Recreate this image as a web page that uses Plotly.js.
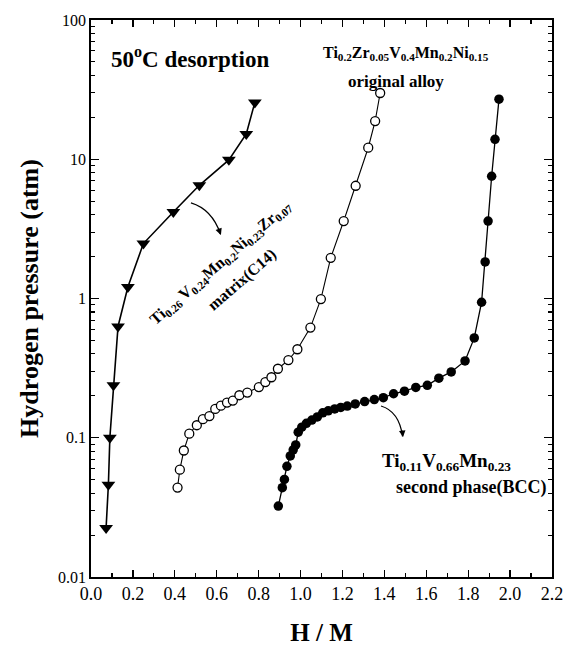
<!DOCTYPE html>
<html><head><meta charset="utf-8">
<script src="https://cdn.plot.ly/plotly-3.0.1.min.js"></script>
<style>html,body{margin:0;padding:0;background:#fff}</style>
</head><body>
<div id="chart" style="width:567px;height:646px"></div>
<script>
// C14 matrix (triangles)
const c14X = [0.072,0.083,0.090,0.107,0.129,0.176,0.250,0.393,0.517,0.658,0.741,0.782];
const c14Y = [0.0225,0.046,0.100,0.238,0.63,1.21,2.48,4.18,6.5,9.9,15.2,25.6];
// original alloy (open circles)
const origX = [0.413,0.424,0.443,0.469,0.505,0.534,0.565,0.593,0.620,0.649,0.677,0.708,0.746,0.801,0.832,0.861,0.892,0.942,0.985,1.047,1.097,1.144,1.206,1.263,1.323,1.356,1.380];
const origY = [0.0439,0.059,0.081,0.107,0.123,0.136,0.143,0.161,0.170,0.179,0.185,0.202,0.211,0.231,0.251,0.272,0.313,0.361,0.432,0.618,0.99,1.96,3.6,6.45,12.1,18.8,29.9];
// second phase BCC (filled circles)
const bccX = [0.894,0.913,0.923,0.935,0.951,0.965,0.977,0.989,1.006,1.028,1.054,1.080,1.106,1.132,1.163,1.192,1.223,1.261,1.306,1.352,1.395,1.444,1.496,1.550,1.605,1.660,1.719,1.785,1.829,1.864,1.881,1.895,1.912,1.928,1.947];
const bccY = [0.0323,0.0438,0.0502,0.0624,0.074,0.0819,0.0888,0.1096,0.119,0.127,0.134,0.141,0.151,0.156,0.161,0.165,0.169,0.175,0.182,0.188,0.194,0.207,0.216,0.230,0.238,0.268,0.297,0.356,0.521,0.94,1.83,3.6,7.55,13.9,27.0];

const xTickVals = [0,0.2,0.4,0.6,0.8,1.0,1.2,1.4,1.6,1.8,2.0,2.2];
const xTickText = ['0.0','0.2','0.4','0.6','0.8','1.0','1.2','1.4','1.6','1.8','2.0','2.2'];
const yTickVals = [0.01,0.1,1,10,100];
const yTickText = ['0.01','0.1','1','10','100'];

const serif = 'Liberation Serif, Times New Roman, serif';

const traces = [
  {x:c14X, y:c14Y, mode:'lines+markers', type:'scatter',
   line:{color:'#000', width:1.6},
   marker:{symbol:'triangle-down', size:12, color:'#000'}},
  {x:origX, y:origY, mode:'lines+markers', type:'scatter',
   line:{color:'#000', width:1.1},
   marker:{symbol:'circle', size:9, color:'#fff', line:{color:'#000', width:1.3}}},
  {x:bccX, y:bccY, mode:'lines+markers', type:'scatter',
   line:{color:'#000', width:1.3},
   marker:{symbol:'circle', size:9.5, color:'#000'}}
];

function P(x, ly){ return [(x/2.2).toFixed(4), ((ly+2)/4).toFixed(4)]; }
function curve(a,c,b){
  const A=P(a[0],a[1]), C=P(c[0],c[1]), B=P(b[0],b[1]);
  return {type:'path', xref:'paper', yref:'paper',
    path:`M ${A[0]} ${A[1]} Q ${C[0]} ${C[1]} ${B[0]} ${B[1]}`,
    line:{color:'#000', width:1.3}};
}

const layout = {
  width:567, height:646,
  margin:{l:91, r:15, t:20, b:69},
  paper_bgcolor:'#fff', plot_bgcolor:'#fff',
  showlegend:false,
  font:{family:serif, color:'#000'},
  xaxis:{range:[0,2.2], tickvals:xTickVals, ticktext:xTickText,
    ticks:'inside', ticklen:7, tickwidth:1.3, tickcolor:'#000',
    minor:{tickvals:[0.1,0.3,0.5,0.7,0.9,1.1,1.3,1.5,1.7,1.9,2.1], ticks:'inside', ticklen:4, tickwidth:1.1, tickcolor:'#000'},
    showline:true, linecolor:'#000', linewidth:1.8, mirror:'ticks',
    showgrid:false, zeroline:false,
    tickfont:{family:serif, size:18},
    title:{text:'<b>H / M</b>', font:{family:serif, size:25}, standoff:22}},
  yaxis:{type:'log', range:[-2,2], tickvals:yTickVals, ticktext:yTickText,
    ticks:'inside', ticklen:8, tickwidth:1.3, tickcolor:'#000',
    minor:{ticks:'inside', ticklen:4, tickwidth:1.1, tickcolor:'#000', dtick:'D1'},
    showline:true, linecolor:'#000', linewidth:1.8, mirror:'ticks',
    showgrid:false, zeroline:false,
    tickfont:{family:serif, size:16},
    title:{text:'<b>Hydrogen pressure (atm)</b>', font:{family:serif, size:26}, standoff:12}},
  shapes:[
    curve([0.477,0.686],[0.578,0.640],[0.618,0.462]),
    curve([1.384,-0.772],[1.470,-0.810],[1.487,-0.990])
  ],
  annotations:[
    {x:0.473, y:1.734, xref:'x', yref:'y', showarrow:false,
     text:'<b>50<sup>o</sup>C desorption</b>', font:{family:serif, size:23}},
    {x:1.504, y:1.763, xref:'x', yref:'y', showarrow:false,
     text:'<b>Ti<sub>0.2</sub>Zr<sub>0.05</sub>V<sub>0.4</sub>Mn<sub>0.2</sub>Ni<sub>0.15</sub></b>', font:{family:serif, size:16}},
    {x:1.456, y:1.555, xref:'x', yref:'y', showarrow:false,
     text:'<b>original alloy</b>', font:{family:serif, size:17}},
    {x:0.62, y:0.262, xref:'x', yref:'y', showarrow:false, textangle:-41,
     text:'<b>Ti<sub>0.26</sub> V<sub>0.24</sub>Mn<sub>0.2</sub>Ni<sub>0.23</sub>Zr<sub>0.07</sub></b>', font:{family:serif, size:16}},
    {x:0.72, y:0.133, xref:'x', yref:'y', showarrow:false, textangle:-41,
     text:'<b>matrix(C14)</b>', font:{family:serif, size:16}},
    {x:1.695, y:-1.174, xref:'x', yref:'y', showarrow:false,
     text:'<b>Ti<sub>0.11</sub>V<sub>0.66</sub>Mn<sub>0.23</sub></b>', font:{family:serif, size:19}},
    {x:1.814, y:-1.354, xref:'x', yref:'y', showarrow:false,
     text:'<b>second phase(BCC)</b>', font:{family:serif, size:18}},
    {x:0.62, y:0.456, xref:'x', yref:'y', text:'', showarrow:true, arrowhead:2, arrowsize:1, arrowwidth:1.3, arrowcolor:'#000', ax:-3, ay:-8},
    {x:1.489, y:-0.995, xref:'x', yref:'y', text:'', showarrow:true, arrowhead:2, arrowsize:1, arrowwidth:1.3, arrowcolor:'#000', ax:-1, ay:-8}
  ]
};

Plotly.newPlot('chart', traces, layout, {displayModeBar:false, staticPlot:true});
</script>
</body></html>
